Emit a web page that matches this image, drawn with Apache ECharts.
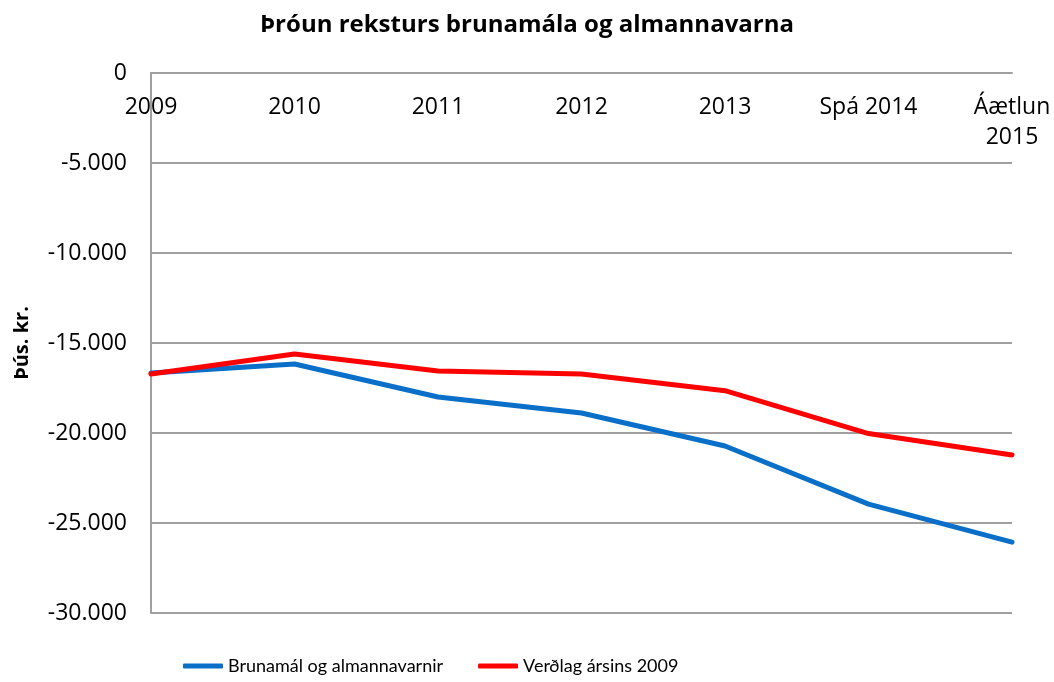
<!DOCTYPE html>
<html>
<head>
<meta charset="utf-8">
<script src="https://cdn.jsdelivr.net/npm/echarts@6/dist/echarts.min.js"></script>
<style>
  html, body { margin: 0; padding: 0; background: #fff; }
  #chart { width: 1054px; height: 682px; }
</style>
</head>
<body>
<div id="chart"></div>
<script>
// categories along the top axis
const years = ['2009', '2010', '2011', '2012', '2013', 'Spá 2014', 'Áætlun\n2015']

// values in þús. kr.
const brunamal = [-16670, -16170, -18000, -18890, -20720, -23950, -26060]
const verdlag2009 = [-16720, -15610, -16560, -16720, -17650, -20030, -21220]

const yMin = -30000
const yMax = 0
const yStep = 5000

const font = '"Open Sans", "Noto Sans", sans-serif'
const legendFont = 'Lato, "Open Sans", sans-serif'
const gridColor = '#a0a0a0'

// 12.345 style thousands separator
function fmt(v) {
  const s = Math.abs(v).toString().replace(/\B(?=(\d{3})+(?!\d))/g, '.')
  return (v < 0 ? '-' : '') + s
}

const chart = echarts.init(document.getElementById('chart'))

const option = {
  backgroundColor: '#fff',
  animation: false,
  textStyle: { fontFamily: font },
  title: {
    text: 'Þróun reksturs brunamála og almannavarna',
    left: 'center',
    top: 8,
    textStyle: {
      fontFamily: font,
      fontSize: 24,
      fontWeight: 'bold',
      color: '#000'
    }
  },
  legend: {
    top: 657,
    left: 183,
    padding: 0,
    icon: 'roundRect',
    itemWidth: 40,
    itemHeight: 5,
    itemGap: 35,
    textStyle: { fontFamily: legendFont, fontSize: 18, color: '#000' },
    data: ['Brunamál og almannavarnir', 'Verðlag ársins 2009']
  },
  grid: {
    left: 151,
    right: 42,
    top: 73,
    bottom: 69
  },
  xAxis: {
    type: 'category',
    data: years,
    position: 'top',
    boundaryGap: false,
    axisLine: { lineStyle: { color: gridColor, width: 2 } },
    axisTick: { show: false },
    axisLabel: {
      inside: true,
      interval: 0,
      margin: 19,
      color: '#000',
      fontFamily: font,
      fontSize: 23,
      lineHeight: 30
    }
  },
  yAxis: {
    type: 'value',
    min: yMin,
    max: yMax,
    interval: yStep,
    name: 'Þús. kr.',
    nameLocation: 'middle',
    nameGap: 119,
    nameRotate: 90,
    nameTextStyle: {
      fontFamily: font,
      fontSize: 20,
      fontWeight: 'bold',
      color: '#000'
    },
    axisLine: { show: true, lineStyle: { color: gridColor, width: 2 } },
    axisTick: { show: false },
    axisLabel: {
      margin: 24,
      color: '#000',
      fontFamily: font,
      fontSize: 23,
      formatter: fmt
    },
    splitLine: { lineStyle: { color: gridColor, width: 2 } }
  },
  series: [
    {
      name: 'Brunamál og almannavarnir',
      type: 'line',
      data: brunamal,
      symbol: 'none',
      lineStyle: { color: '#0a6fc8', width: 5, cap: 'round', join: 'round' },
      itemStyle: { color: '#0a6fc8' }
    },
    {
      name: 'Verðlag ársins 2009',
      type: 'line',
      data: verdlag2009,
      symbol: 'none',
      lineStyle: { color: '#ff0000', width: 5, cap: 'round', join: 'round' },
      itemStyle: { color: '#ff0000' }
    }
  ]
}

chart.setOption(option)
</script>
</body>
</html>
